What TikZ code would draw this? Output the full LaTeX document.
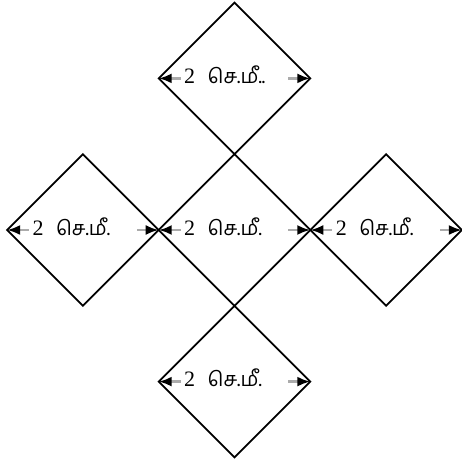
\documentclass[tikz,border=0pt]{standalone}
\usepackage{fontspec}
\setmainfont{Liberation Serif}
\newfontfamily\tamil[Script=Tamil]{Hind Madurai}
\usetikzlibrary{shapes.geometric,arrows.meta,calc}
\begin{document}
\begin{tikzpicture}[x=1pt,y=-1pt,
  dia/.style={draw=black, line width=1.8pt, shape=diamond, aspect=1, inner sep=0pt, outer sep=0pt,
    minimum width=151.6pt, minimum height=151.6pt},
  gline/.style={draw=black!33, line width=2.4pt, {Latex[length=13pt,width=10pt,black]}-},
  lbl/.style={inner sep=0pt, anchor=base west, font=\fontsize{22}{22}\selectfont}
]
\useasboundingbox (0,0) rectangle (462,464);
\def\h{75.8}
\node[dia] (c) at (234.5,230) {};
\node[dia] (t) at (234.5,{230-2*\h}) {};
\node[dia] (b) at (234.5,{230+2*\h}) {};
\node[dia] (l) at ({234.5-2*\h},230) {};
\node[dia] (r) at ({234.5+2*\h},230) {};
\foreach \d/\t in {c/{செ.மீ.}, t/{செ.மீ..}, b/{செ.மீ.}, l/{செ.மீ.}, r/{செ.மீ.}}{
  \draw[gline] (\d.west) -- ++(22,0);
  \draw[gline] (\d.east) -- ++(-22,0);
  \node[lbl] (\d lab) at ($(\d.center)+(-50.5,5)$) {2\hspace{12.5pt}{\tamil\fontsize{20}{20}\selectfont \t}};
}
\end{tikzpicture}
\end{document}
